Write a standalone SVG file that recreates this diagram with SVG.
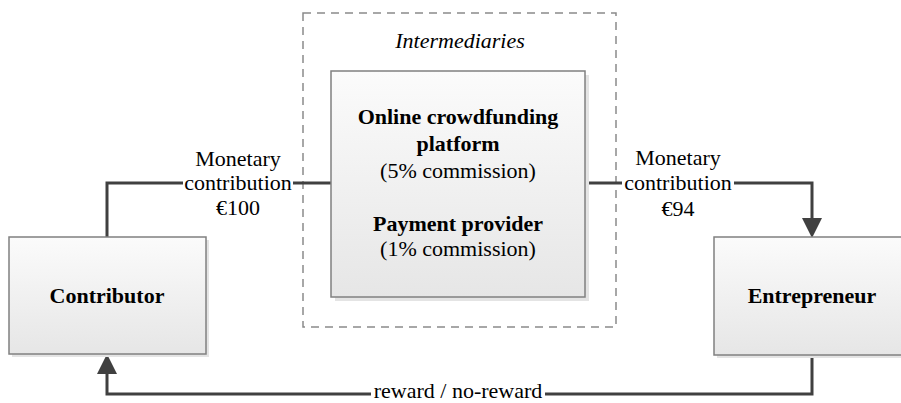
<svg xmlns="http://www.w3.org/2000/svg" width="901" height="403" viewBox="0 0 901 403">
<defs>
<linearGradient id="g" x1="0" y1="0" x2="0" y2="1">
<stop offset="0" stop-color="#fbfbfb"/>
<stop offset="1" stop-color="#e6e6e6"/>
</linearGradient>
<marker id="arr" viewBox="0 0 20 20" refX="0" refY="10" markerWidth="20" markerHeight="20" markerUnits="userSpaceOnUse" orient="auto">
<path d="M0,0 L20,10 L0,20 Z" fill="#404040"/>
</marker>
<style>
.box{fill:url(#g);stroke:#808080;stroke-width:1.5}
.sh{fill:#e4e4e4}
.t{font-family:"Liberation Serif","Times New Roman",serif;font-size:22px;fill:#000;text-anchor:middle}
.b{font-weight:bold}
.c{fill:none;stroke:#404040;stroke-width:3}
.bg{fill:#fff}
</style>
</defs>
<rect width="901" height="403" fill="#fff"/>
<g id="intermediaries">
<rect x="303" y="13" width="313" height="314" fill="none" stroke="#8a8a8a" stroke-width="1.5" stroke-dasharray="8,6"/>
<text class="t" x="460" y="48" font-style="italic" font-size="23">Intermediaries</text>
</g>
<g id="connectors">
<path class="c" d="M331,183 H107 V237"/>
<path class="c" d="M585,183 H812 V218" marker-end="url(#arr)"/>
<path class="c" d="M812,355 V394 H107 V374" marker-end="url(#arr)"/>
<rect class="bg" x="183" y="174" width="110" height="18"/>
<rect class="bg" x="622" y="174" width="112" height="18"/>
<rect class="bg" x="371" y="385" width="174" height="16"/>
<text class="t" x="238" y="166">Monetary</text>
<text class="t" x="238" y="190">contribution</text>
<text class="t" x="238" y="215">€100</text>
<text class="t" x="678" y="165">Monetary</text>
<text class="t" x="678" y="190">contribution</text>
<text class="t" x="678" y="216">€94</text>
<text class="t" x="458" y="398">reward / no-reward</text>
</g>
<g id="platform">
<rect class="sh" x="335" y="75" width="254" height="226"/>
<rect class="box" x="331" y="71" width="254" height="226"/>
<text class="t b" x="458" y="124">Online crowdfunding</text>
<text class="t b" x="458" y="151">platform</text>
<text class="t" x="458" y="178">(5% commission)</text>
<text class="t b" x="458" y="231">Payment provider</text>
<text class="t" x="458" y="256">(1% commission)</text>
</g>
<g id="contributor">
<rect class="sh" x="12" y="240" width="197" height="117"/>
<rect class="box" x="9" y="237" width="197" height="117"/>
<text class="t b" x="107" y="303">Contributor</text>
</g>
<g id="entrepreneur">
<rect class="sh" x="717" y="240" width="196" height="118"/>
<rect class="box" x="714" y="237" width="196" height="118"/>
<text class="t b" x="812" y="303">Entrepreneur</text>
</g>
</svg>
